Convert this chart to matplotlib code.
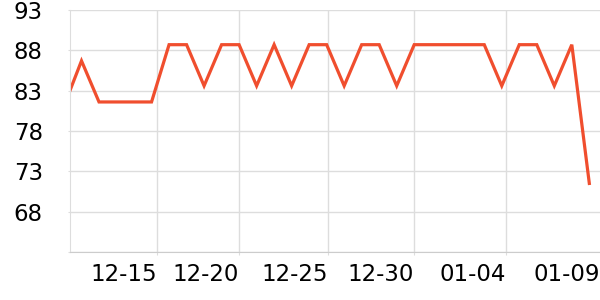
import matplotlib.pyplot as plt

plt.rcParams['font.family'] = 'DejaVu Sans'

# 日毎のスコア（左端は軸の外に少しはみ出す）
days = list(range(31))
scores = [81.1, 86.7, 81.6, 81.6, 81.6, 81.6, 88.7, 88.7, 83.6, 88.7,
          88.7, 83.6, 88.7, 83.6, 88.7, 88.7, 83.6, 88.7, 88.7, 83.6,
          88.7, 88.7, 88.7, 88.7, 88.7, 83.6, 88.7, 88.7, 83.6, 88.7,
          71.5]

# x軸ラベル
tick_labels = ['12-15', '12-20', '12-25', '12-30', '01-04', '01-09']
tick_pos = [5.33, 10.0, 15.06, 20.0, 25.26, 30.6]
y_ticks = [68, 73, 78, 83, 88, 93]

grid_color = '#dddddd'
line_color = '#f04e2e'

fig = plt.figure(figsize=(6, 3), dpi=100)
ax = fig.add_axes([70 / 600, 1 - 252 / 300, 530 / 600, 242 / 300])

ax.plot(days, scores, '-', color=line_color, linewidth=2.3,
        solid_joinstyle='miter', clip_on=True)

ax.set_xlim(0.343, 30.61)
ax.set_ylim(63, 93)

ax.set_xticks(tick_pos)
ax.set_xticklabels(tick_labels, ha='right')
ax.set_yticks([63] + y_ticks)
ax.set_yticklabels([''] + [str(v) for v in y_ticks])

ax.grid(True, color=grid_color, linewidth=1)
ax.set_axisbelow(True)

# 右端（01-09）の縦グリッドは描かない
ax.get_xgridlines()[-1].set_visible(False)
ax.xaxis.get_major_ticks()[-1].tick1line.set_visible(False)

for side in ['top', 'right']:
    ax.spines[side].set_visible(False)
ax.spines['left'].set_color(grid_color)
ax.spines['bottom'].set_color('#cccccc')

ax.tick_params(axis='x', length=2.5, color=grid_color, labelsize=16.5, pad=5.5)
ax.tick_params(axis='y', length=1.5, color=grid_color, labelsize=16.5, pad=18)

fig.savefig('out.png', dpi=100)
